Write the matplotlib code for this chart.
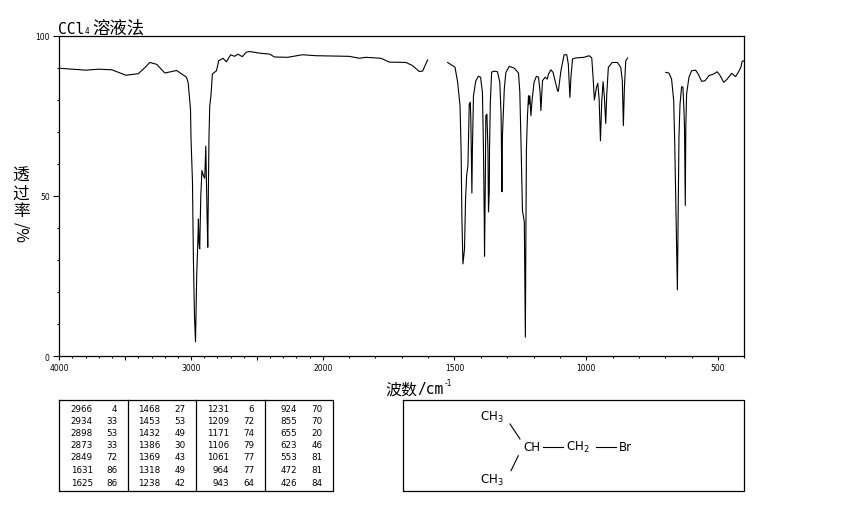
import matplotlib
matplotlib.use('Agg')
import matplotlib.pyplot as plt
import numpy as np

plt.rcParams['mathtext.default'] = 'regular'

# spectrum, three pieces with gaps where the solvent blocks
wn1 = [4000, 3900, 3800, 3700, 3600, 3494, 3400, 3350, 3313, 3260, 3199, 3110, 3035, 3022, 3004, 3000, 2989, 2982,
       2974, 2966, 2957, 2947, 2944, 2939, 2934, 2926, 2917, 2906, 2896, 2888, 2878, 2873, 2864, 2858,
       2849, 2838, 2807, 2790, 2757, 2732, 2699, 2669, 2644, 2611, 2581, 2555, 2480, 2404, 2366, 2267,
       2154, 2050, 1899, 1861, 1836, 1779, 1747, 1684, 1659, 1634, 1621, 1602]
t1 = [89.8, 89.5, 89.2, 89.5, 89.3, 87.6, 88.1, 90, 91.6, 91, 88.3, 89.1, 87, 85.4, 77, 67.7, 54.3, 30.3,
      12.7, 4.5, 25, 37.6, 42.8, 35, 33.5, 50, 57.9, 56.3, 55.5, 65.5, 43.4, 34, 67.7, 78,
      81.2, 88, 89, 92.1, 92.9, 91.8, 94, 93.5, 94.2, 93.4, 94.8, 95, 94.5, 94.2, 93.3, 93.2,
      94, 93.7, 93.5, 92.9, 93.2, 92.9, 91.7, 91.6, 90.6, 88.8, 88.9, 92.4]

wn2 = [1526, 1498, 1488, 1479, 1475, 1472, 1468, 1462, 1458, 1454, 1449, 1444, 1440, 1438, 1434, 1432, 1428,
       1419, 1409, 1401, 1394, 1390, 1387, 1386, 1383, 1381, 1377, 1373, 1371, 1368, 1367, 1364, 1359,
       1349, 1337, 1328, 1323, 1320, 1318, 1311, 1305, 1292, 1273, 1257, 1252, 1247, 1242, 1235, 1231,
       1229, 1227, 1223, 1219, 1217, 1214, 1210, 1205, 1198, 1189, 1181, 1175, 1172, 1166, 1156, 1148,
       1143, 1134, 1126, 1109, 1106, 1096, 1084, 1074, 1068, 1062, 1058, 1052, 1040, 1008, 989, 979,
       974, 969, 961, 956, 951, 946, 941, 936, 931, 926, 922, 916, 901, 882, 869, 863, 859, 855, 850, 843]
t2 = [91.6, 90.1, 85.4, 78.1, 64.6, 43.8, 28.8, 33.4, 49, 56.3, 59.4, 78.6, 79.2, 74, 50.9, 64.6, 81.2,
      85.9, 87.3, 87, 82.3, 64.6, 42.8, 31.2, 54.3, 75, 75.5, 64.6, 45, 51.2, 64.6, 79.3, 88.6,
      88.9, 88.7, 85.5, 75, 51.3, 68.8, 83.3, 88.5, 90.4, 89.8, 88.3, 82.3, 64.6, 45.4, 41.9, 6,
      37.6, 64.6, 75, 81.2, 78.6, 81.2, 75, 80.2, 85.4, 87.3, 87, 82.3, 76.6, 85.9, 87, 86.4,
      88, 89.3, 88.5, 82.8, 82.6, 89, 94, 94, 91.1, 80.7, 87, 92.7, 93, 93.2, 93.7, 93,
      87, 79.9, 83.9, 85.1, 80.2, 67.2, 79.7, 85.6, 80.7, 72.6, 81.8, 90.1, 91.6, 91.6, 90.1, 85.9, 71.9, 83.9, 92.1, 93]

wn3 = [698, 686, 676, 668, 664, 654, 648, 644, 638, 633, 629, 627, 624, 622, 619, 610, 600, 585, 575, 562,
       549, 534, 516, 503, 494, 478, 465, 448, 433, 423, 413, 408, 400]
t3 = [88.5, 88.3, 86.4, 79.7, 66.2, 20.7, 68.4, 78.6, 84, 83.9, 76.6, 71.5, 47, 71.5, 81.8, 87, 89, 89.2, 88, 85.7,
      85.9, 87.5, 88, 88.7, 87.8, 85.4, 86.4, 88.2, 87.2, 88.5, 90.1, 92, 92.1]

# peak table
col_wn = [['2966', '2934', '2898', '2873', '2849', '1631', '1625'],
          ['1468', '1453', '1432', '1386', '1369', '1318', '1238'],
          ['1231', '1209', '1171', '1106', '1061', '964', '943'],
          ['924', '855', '655', '623', '553', '472', '426']]
col_t = [['4', '33', '53', '33', '72', '86', '86'],
         ['27', '53', '49', '30', '43', '49', '42'],
         ['6', '72', '74', '79', '77', '77', '64'],
         ['70', '70', '20', '46', '81', '81', '84']]


# the axis changes scale at 2000, below it twice as wide
def forward(w):
    w = np.asarray(w, dtype=float)
    return np.where(w <= 2000, w, 2000 + (w - 2000) / 2)


def inverse(p):
    p = np.asarray(p, dtype=float)
    return np.where(p <= 2000, p, 2000 + (p - 2000) * 2)


fig = plt.figure(figsize=(8.5, 5.1), dpi=100)
ax = fig.add_axes([59.3 / 850, (510 - 357.3) / 510, 685 / 850, 320.8 / 510])
ax.set_xscale('function', functions=(forward, inverse))
for w, t in [(wn1, t1), (wn2, t2), (wn3, t3)]:
    ax.plot(w, t, color='black', lw=0.8)
ax.set_xlim(4000, 400)
ax.set_ylim(0, 100)

ax.set_xticks([4000, 3500, 3000, 2500, 2000, 1500, 1000, 500])
ax.set_xticklabels(['4000', '', '3000', '', '2000', '1500', '1000', '500'])
ax.set_xticks(np.arange(400, 4000, 100), minor=True)
ax.set_yticks([0, 50, 100])
ax.set_yticklabels(['0', '50', '100'])
ax.set_yticks(np.arange(10, 100, 10), minor=True)
ax.tick_params(axis='x', which='major', length=3, width=0.8, pad=2, labelsize=5.5)
ax.tick_params(axis='x', which='minor', length=1.3, width=0.8)
ax.tick_params(axis='y', which='major', length=4.3, width=0.8, pad=2.5, labelsize=5.5)
ax.tick_params(axis='y', which='minor', length=1.5, width=0.8)
for s in ax.spines.values():
    s.set_linewidth(0.9)

# everything else is placed in pixel coordinates on an overlay
ov = fig.add_axes([0, 0, 1, 1])
ov.set_xlim(0, 850)
ov.set_ylim(510, 0)
ov.axis('off')

cjk = 'Noto Sans CJK SC'
ov.text(58, 29, 'CCl', family='DejaVu Sans Mono', fontsize=10.5, ha='left', va='center')
ov.text(84.5, 32, '4', family='DejaVu Sans Mono', fontsize=5.5, ha='left', va='center')
ov.text(92, 29, '溶液法', family=cjk, fontsize=12.5, ha='left', va='center')

ov.text(385, 390, '波数', family=cjk, fontsize=11.5, ha='left', va='center')
ov.text(417, 390, '/cm', family='DejaVu Sans Mono', fontsize=10.5, ha='left', va='center')
ov.text(445, 384, '-1', fontsize=5.5, ha='left', va='center')

for label, y in [('透', 176), ('过', 194), ('率', 212)]:
    ov.text(21, y, label, family=cjk, fontsize=12, ha='center', va='center')
ov.text(21, 233, '/%', family=cjk, fontsize=11.5, rotation=270, ha='center', va='center')

# peak table
ov.plot([59.3, 333.3, 333.3, 59.3, 59.3], [400.5, 400.5, 491.7, 491.7, 400.5], color='black', lw=0.9)
for x in [128.3, 196.3, 265.3]:
    ov.plot([x, x], [400.5, 491.7], color='black', lw=0.9)
wn_right = [92.7, 160, 229.3, 297.3]
t_right = [117.3, 185.7, 254.3, 322.3]
row_y = [410, 422, 434, 446, 458, 471, 484]
for c in range(4):
    for r in range(7):
        ov.text(wn_right[c], row_y[r], col_wn[c][r], fontsize=6.3, ha='right', va='center')
        ov.text(t_right[c], row_y[r], col_t[c][r], fontsize=6.3, ha='right', va='center')

# structure box
ov.plot([402.7, 744.3, 744.3, 402.7, 402.7], [400.5, 400.5, 491.7, 491.7, 400.5], color='black', lw=0.9)
ov.text(480, 417, 'CH$_3$', fontsize=8.5, ha='left', va='center')
ov.text(480, 480, 'CH$_3$', fontsize=8.5, ha='left', va='center')
ov.text(523, 447.7, 'CH', fontsize=8.5, ha='left', va='center')
ov.text(566, 447.7, 'CH$_2$', fontsize=8.5, ha='left', va='center')
ov.text(619, 447.7, 'Br', fontsize=8.5, ha='left', va='center')
ov.plot([510, 520], [425, 440], color='black', lw=0.8)
ov.plot([518.3, 511], [456.7, 471.7], color='black', lw=0.8)
ov.plot([543.3, 563.3], [447.7, 447.7], color='black', lw=0.8)
ov.plot([596, 616], [447.7, 447.7], color='black', lw=0.8)

fig.savefig('out.png', dpi=100)
